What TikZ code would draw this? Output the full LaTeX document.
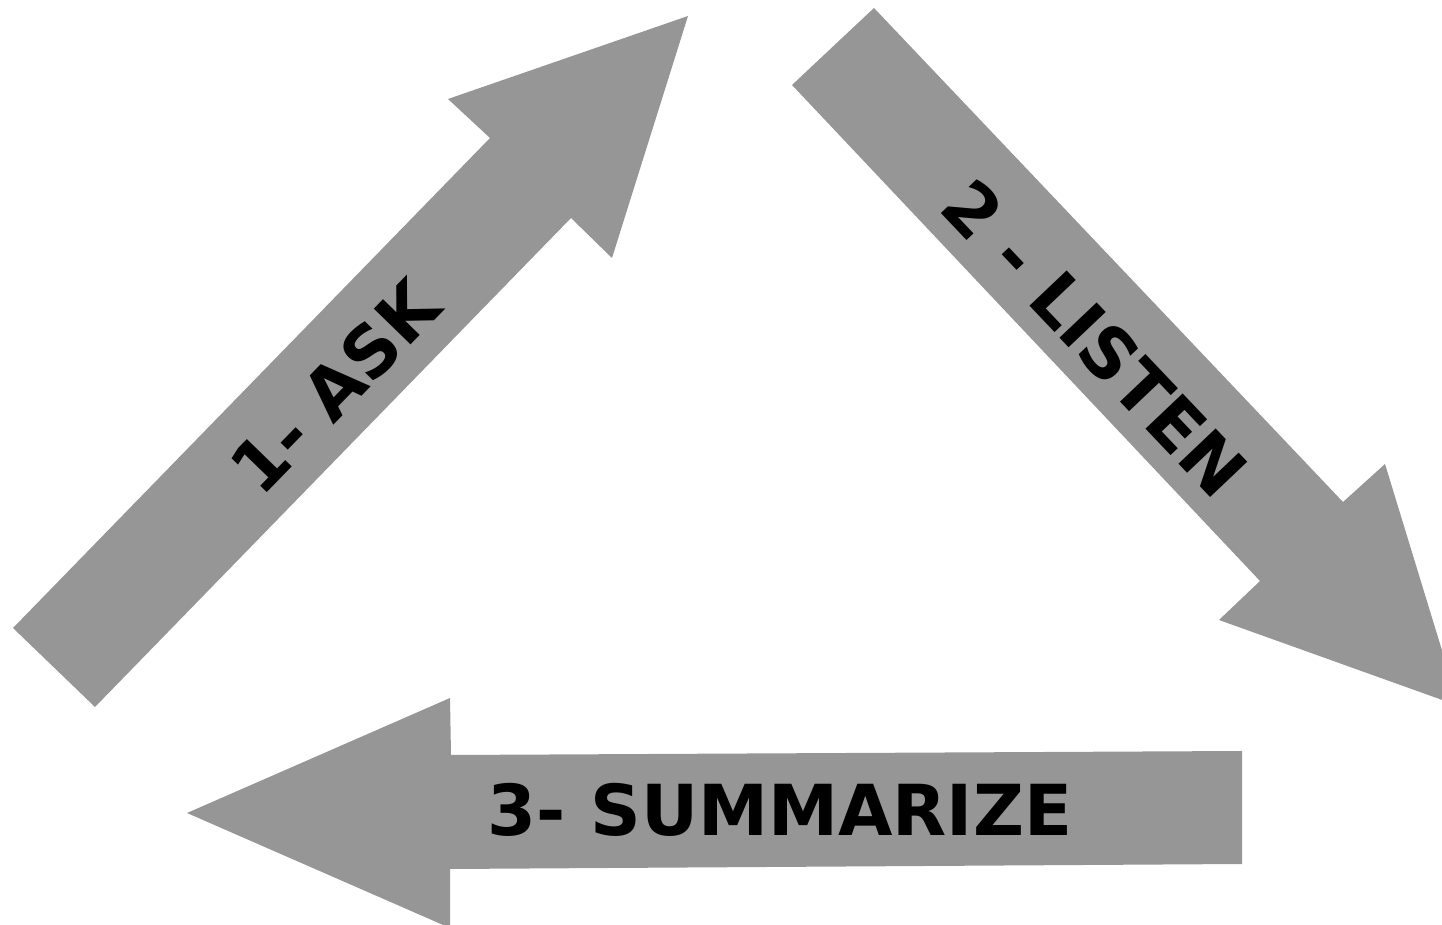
\documentclass[tikz,border=0pt]{standalone}
\usepackage{fontspec}
\setmainfont{DejaVu Sans}
\definecolor{arrowgray}{RGB}{150,150,150}
\tikzset{
  bigarrow/.style={fill=arrowgray, draw=none},
  steplabel/.style={font=\bfseries\fontsize{20}{23}\selectfont, text=black, inner sep=0pt}
}
\begin{document}
\begin{tikzpicture}[x=0.01cm, y=-0.01cm]
            \useasboundingbox (0,0) rectangle (1442,925);
            \clip (0,0) rectangle (1442,925);
            % 1 - ask
            \fill[bigarrow] (13,628) -- (490,138) -- (448,99) -- (688,16) -- (612,258) -- (571,218) -- (95,707) -- cycle;
            % 2 - listen
            \fill[bigarrow] (792,85) -- (874,8) -- (1343,502) -- (1385,464) -- (1459,706) -- (1219,620) -- (1260,581) -- cycle;
            % 3 - summarize
            \fill[bigarrow] (1242,751) -- (1242,864) -- (450,869) -- (450,928) -- (187,813) -- (450,698) -- (451,755) -- cycle;
            \node[steplabel, rotate=45.8] (ask) at (335,387) {1- ASK};
            \node[steplabel, rotate=-46.5] (listen) at (1095,338) {2 - LISTEN};
            \node[steplabel] (summarize) at (780,810) {3- SUMMARIZE};
        \end{tikzpicture}
\end{document}
